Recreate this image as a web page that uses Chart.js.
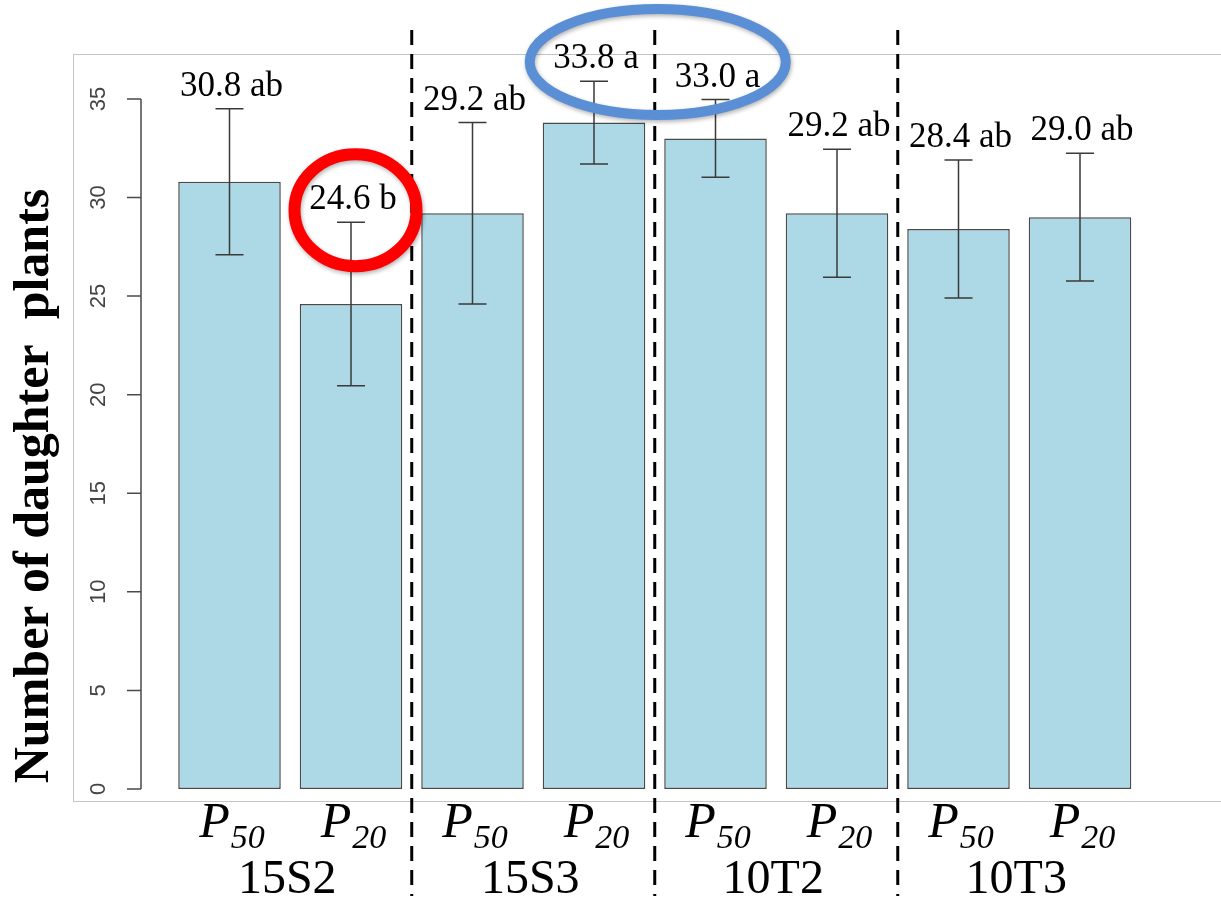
<!DOCTYPE html>
<html>
<head>
<meta charset="utf-8">
<script src="https://cdn.jsdelivr.net/npm/chart.js@4/dist/chart.umd.min.js"></script>
<style>
  html, body { margin: 0; padding: 0; background: #fff; }
  #c { display: block; }
</style>
</head>
<body>
<canvas id="c" width="1221" height="901"></canvas>
<script>
// ---- data ----
const groups = ['15S2', '15S3', '10T2', '10T3'];
const phases = ['50', '20', '50', '20', '50', '20', '50', '20'];
const means = [30.8, 24.6, 29.2, 33.8, 33.0, 29.2, 28.4, 29.0];
const errors = [3.7, 4.15, 4.6, 2.1, 1.97, 3.25, 3.5, 3.24];
const letters = ['ab', 'b', 'ab', 'a', 'a', 'ab', 'ab', 'ab'];
const yTicks = [0, 5, 10, 15, 20, 25, 30, 35];
const yTitle = 'Number of daughter  plants';
const categories = phases.map((p, i) => groups[Math.floor(i / 2)] + ' P' + p);

const SERIF = '"Liberation Serif", "Times New Roman", serif';
const SANS = '"Liberation Sans", Arial, sans-serif';

const decor = {
  id: 'decor',
  beforeDraw(chart) {
    const ctx = chart.ctx;
    ctx.save();
    ctx.fillStyle = '#fff';
    ctx.fillRect(0, 0, chart.width, chart.height);
    // plot frame
    ctx.strokeStyle = '#c4c4c4';
    ctx.lineWidth = 1;
    ctx.strokeRect(73.5, 54.5, 1300, chart.chartArea.bottom - 54);
    ctx.restore();
  },
  afterDatasetsDraw(chart) {
    const ctx = chart.ctx;
    const y = chart.scales.y;
    const bars = chart.getDatasetMeta(0).data;
    ctx.save();

    // error bars
    ctx.strokeStyle = '#3a3a3a';
    ctx.lineWidth = 1.5;
    bars.forEach((b, i) => {
      const yt = y.getPixelForValue(means[i] + errors[i]);
      const yb = y.getPixelForValue(means[i] - errors[i]);
      ctx.beginPath();
      ctx.moveTo(b.x, yt); ctx.lineTo(b.x, yb);
      ctx.moveTo(b.x - 14, yt); ctx.lineTo(b.x + 14, yt);
      ctx.moveTo(b.x - 14, yb); ctx.lineTo(b.x + 14, yb);
      ctx.stroke();
    });

    // value labels
    ctx.fillStyle = '#000';
    ctx.font = '35px ' + SERIF;
    ctx.textAlign = 'center';
    ctx.textBaseline = 'alphabetic';
    bars.forEach((b, i) => {
      const yt = y.getPixelForValue(means[i] + errors[i]);
      ctx.fillText(means[i].toFixed(1) + ' ' + letters[i], b.x + 2, yt - 13);
    });

    // y axis
    const axX = 141;
    ctx.strokeStyle = '#4a4a4a';
    ctx.lineWidth = 1.5;
    ctx.beginPath();
    ctx.moveTo(axX, y.getPixelForValue(yTicks[0]));
    ctx.lineTo(axX, y.getPixelForValue(yTicks[yTicks.length - 1]));
    yTicks.forEach(t => {
      const py = y.getPixelForValue(t);
      ctx.moveTo(axX, py); ctx.lineTo(axX - 14, py);
    });
    ctx.stroke();
    ctx.fillStyle = '#444';
    ctx.font = '22px ' + SANS;
    ctx.textAlign = 'center';
    ctx.textBaseline = 'middle';
    yTicks.forEach(t => {
      const py = y.getPixelForValue(t);
      ctx.save();
      ctx.translate(99, py);
      ctx.rotate(-Math.PI / 2);
      ctx.fillText(String(t), 0, 0);
      ctx.restore();
    });

    // y title
    ctx.save();
    ctx.fillStyle = '#000';
    ctx.font = 'bold 50px ' + SERIF;
    ctx.textAlign = 'center';
    ctx.textBaseline = 'alphabetic';
    ctx.translate(48, 486);
    ctx.rotate(-Math.PI / 2);
    ctx.fillText(yTitle, 0, 0);
    ctx.restore();

    // x labels P_xx
    ctx.fillStyle = '#000';
    ctx.textBaseline = 'alphabetic';
    bars.forEach((b, i) => {
      ctx.font = 'italic 50px ' + SERIF;
      const wP = ctx.measureText('P').width;
      ctx.font = 'italic 34px ' + SERIF;
      const wS = ctx.measureText(phases[i]).width;
      const start = b.x - (wP + wS) / 2 + 2;
      ctx.textAlign = 'left';
      ctx.font = 'italic 50px ' + SERIF;
      ctx.fillText('P', start, 837);
      ctx.font = 'italic 34px ' + SERIF;
      ctx.fillText(phases[i], start + wP + 1, 848);
    });

    // group labels
    ctx.font = '48px ' + SERIF;
    ctx.textAlign = 'center';
    ctx.textBaseline = 'alphabetic';
    groups.forEach((g, k) => {
      const cx = (bars[2 * k].x + bars[2 * k + 1].x) / 2 - 3;
      ctx.fillText(g, cx, 893);
    });

    // dashed separators
    ctx.strokeStyle = '#000';
    ctx.lineWidth = 3;
    ctx.setLineDash([15, 9]);
    for (let k = 1; k < groups.length; k++) {
      const sx = (bars[2 * k - 1].x + bars[2 * k].x) / 2;
      ctx.beginPath();
      ctx.moveTo(sx, 30); ctx.lineTo(sx, 896);
      ctx.stroke();
    }
    ctx.setLineDash([]);

    // highlight ellipses
    ctx.shadowColor = 'rgba(0,0,0,0.3)';
    ctx.shadowBlur = 4;
    ctx.shadowOffsetX = 1;
    ctx.shadowOffsetY = 2;
    // red around 24.6 b
    ctx.strokeStyle = '#ff0000';
    ctx.lineWidth = 12;
    ctx.beginPath();
    ctx.ellipse(bars[1].x + 4.5, y.getPixelForValue(means[1] + errors[1]) - 12, 61, 56, 0, 0, Math.PI * 2);
    ctx.stroke();
    // blue around 33.8 a / 33.0 a
    ctx.strokeStyle = '#5a8fd5';
    ctx.lineWidth = 10;
    ctx.beginPath();
    ctx.ellipse((bars[3].x + bars[4].x) / 2 + 3, 62, 128, 53, 0, 0, Math.PI * 2);
    ctx.stroke();

    ctx.restore();
  }
};

new Chart(document.getElementById('c'), {
  type: 'bar',
  data: {
    labels: categories,
    datasets: [{
      data: means,
      backgroundColor: '#add8e6',
      borderColor: '#4a4a4a',
      borderWidth: 1.5,
      borderSkipped: false,
      categoryPercentage: 1,
      barPercentage: 0.844
    }]
  },
  options: {
    responsive: false,
    animation: false,
    devicePixelRatio: 1,
    layout: { padding: { left: 168.75, right: 80.25, top: 54, bottom: 100 } },
    plugins: { legend: { display: false }, tooltip: { enabled: false } },
    scales: {
      x: { display: false, offset: true },
      y: { display: false, min: -0.61, max: 37.28 }
    }
  },
  plugins: [decor]
});
</script>
</body>
</html>
